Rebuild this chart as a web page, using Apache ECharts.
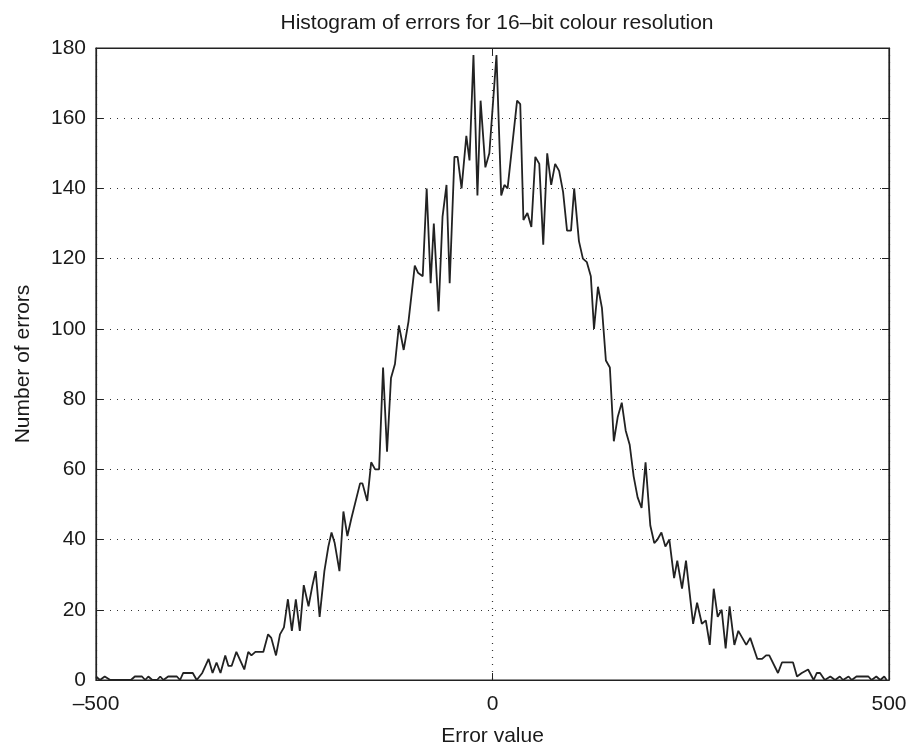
<!DOCTYPE html>
<html>
<head>
<meta charset="utf-8">
<script src="https://cdn.jsdelivr.net/npm/echarts@6/dist/echarts.min.js"></script>
<style>html,body{margin:0;padding:0;background:#fff}#c{width:920px;height:746px}</style>
</head>
<body>
<div id="c"></div>
<script>
const titleText = 'Histogram of errors for 16–bit colour resolution';
const xLabel = 'Error value';
const yLabel = 'Number of errors';
const xTicks = [-500, 0, 500];
const yTicks = [0, 20, 40, 60, 80, 100, 120, 140, 160, 180];
const errorValues = [-500,-495,-489,-482,-456,-451,-442,-438,-434,-429,-423,-419,-415,-409,-398,-394,-390,-378,-373,-366,-358,-353,-348,-343,-337,-333,-329,-323,-313,-308,-304,-299,-289,-283,-279,-273,-268,-263,-258,-253,-248,-243,-238,-232,-227,-223,-218,-212,-207,-203,-199,-193,-188,-183,-178,-167,-164,-158,-153,-148,-143,-138,-133,-128,-123,-118,-112,-106,-98,-94,-88,-83,-78,-74,-68,-63,-58,-54,-48,-44,-39,-33,-29,-24,-19,-15,-9,-4,5,11,15,19,31,35,39,44,49,54,59,64,69,74,79,84,89,94,99,103,109,114,119,124,128,133,138,143,148,153,158,163,168,173,178,183,188,193,199,204,208,213,218,223,229,233,239,244,253,258,264,269,274,279,284,289,294,299,305,310,315,320,325,334,340,345,349,360,365,379,384,390,398,405,409,413,419,426,432,438,442,449,453,459,474,478,484,489,494,497];
const errorCounts = [1,0,1,0,0,1,1,0,1,0,0,1,0,1,1,0,2,2,0,2,6,2,5,2,7,4,4,8,3,8,7,8,8,13,12,7,13,15,23,14,23,14,27,21,27,31,18,31,38,42,39,31,48,41,46,56,56,51,62,60,60,89,65,86,90,101,94,102,118,116,115,140,113,130,105,132,141,113,149,149,140,155,148,178,138,165,146,150,178,138,141,140,165,164,131,133,129,149,147,124,150,141,147,145,139,128,128,140,125,120,119,115,100,112,106,91,89,68,75,79,71,67,58,52,49,62,44,39,40,42,38,40,29,34,26,34,16,22,16,17,10,26,18,20,9,21,10,14,12,10,12,6,6,7,7,2,5,5,1,2,3,0,2,2,0,1,0,1,0,1,0,1,1,0,1,0,1,0];

const seriesData = errorValues.map((x, i) => [x, errorCounts[i]]);
const fmtNum = v => String(v).replace('-', '–');
const txt = '#1a1a1a';
const font = 'Liberation Sans, Arial, Helvetica, sans-serif';
const fs = 21;

const chart = echarts.init(document.getElementById('c'));
chart.setOption({
  animation: false,
  backgroundColor: '#fff',
  title: {
    text: titleText, left: 492, top: 8, textAlign: 'center',
    textStyle: {fontFamily: font, fontSize: fs, fontWeight: 'normal', color: txt}
  },
  grid: {left: 96, right: 31, top: 48, bottom: 66, outerBoundsMode: 'none', containLabel: false,
         show: true, borderColor: '#222', borderWidth: 1.2, backgroundColor: '#fff'},
  xAxis: [{
    type: 'value', min: xTicks[0], max: xTicks[xTicks.length - 1], interval: 500,
    name: xLabel, nameLocation: 'middle', nameGap: 46,
    nameTextStyle: {fontFamily: font, fontSize: fs, color: txt},
    axisLine: {show: true, onZero: false, lineStyle: {color: '#222', width: 1.2}},
    axisTick: {show: true, inside: true, length: 7, lineStyle: {color: '#222'}},
    axisLabel: {fontFamily: font, fontSize: fs, color: txt, margin: 14, formatter: fmtNum},
    splitLine: {show: true, lineStyle: {type: [1, 6], color: '#333', width: 1.2}}
  }, {
    type: 'value', position: 'top', min: xTicks[0], max: xTicks[xTicks.length - 1], interval: 500,
    axisLine: {show: true, onZero: false, lineStyle: {color: '#222', width: 1.2}},
    axisTick: {show: true, inside: true, length: 7, lineStyle: {color: '#222'}},
    axisLabel: {show: false}, splitLine: {show: false}
  }],
  yAxis: [{
    type: 'value', min: yTicks[0], max: yTicks[yTicks.length - 1], interval: 20,
    name: yLabel, nameLocation: 'middle', nameGap: 62, nameRotate: 90,
    nameTextStyle: {fontFamily: font, fontSize: fs, color: txt},
    axisLine: {show: true, onZero: false, lineStyle: {color: '#222', width: 1.2}},
    axisTick: {show: true, inside: true, length: 7, lineStyle: {color: '#222'}},
    axisLabel: {fontFamily: font, fontSize: fs, color: txt, margin: 10},
    splitLine: {show: true, lineStyle: {type: [1, 6], color: '#333', width: 1.2}}
  }, {
    type: 'value', position: 'right', min: yTicks[0], max: yTicks[yTicks.length - 1], interval: 20,
    axisLine: {show: true, onZero: false, lineStyle: {color: '#222', width: 1.2}},
    axisTick: {show: true, inside: true, length: 7, lineStyle: {color: '#222'}},
    axisLabel: {show: false}, splitLine: {show: false}
  }],
  series: [{
    type: 'line', data: seriesData, xAxisIndex: 0, yAxisIndex: 0,
    showSymbol: false, smooth: false,
    lineStyle: {color: '#222', width: 1.8},
    z: 5
  }]
});
</script>
</body>
</html>
